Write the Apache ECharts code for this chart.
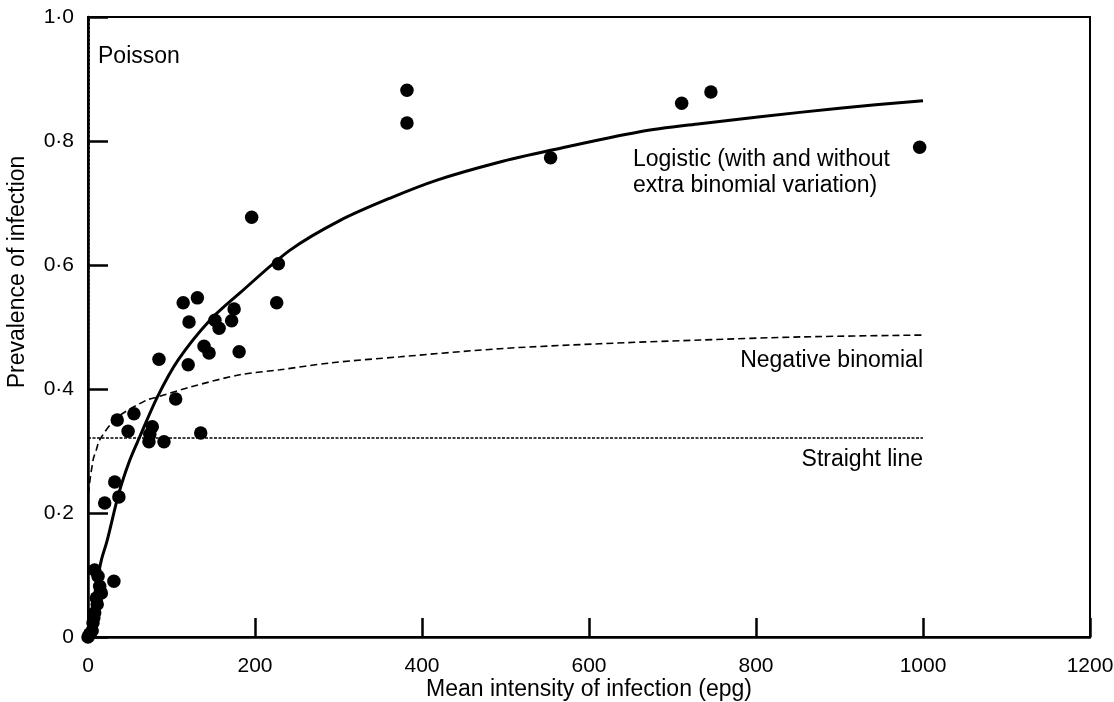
<!DOCTYPE html>
<html>
<head>
<meta charset="utf-8">
<script src="https://cdn.jsdelivr.net/npm/echarts@6/dist/echarts.min.js"></script>
<style>
html, body { margin: 0; background: #fff; }
#main { width: 1114px; height: 702px; }
</style>
</head>
<body>
<div id="main"></div>
<script>
// observed prevalence vs mean intensity (epg)
var observed = [
  [382, 0.882], [382, 0.829], [554, 0.773], [711, 0.861], [746, 0.879], [996, 0.790],
  [196, 0.677], [228, 0.602], [226, 0.539], [114, 0.539], [131, 0.547], [121, 0.508],
  [175, 0.529], [172, 0.510], [152, 0.511], [157, 0.498], [139, 0.469], [145, 0.458],
  [181, 0.460], [85, 0.448], [120, 0.439], [105, 0.384], [35, 0.350], [55, 0.360],
  [48, 0.332], [77, 0.339], [73, 0.315], [91, 0.315], [74, 0.327], [135, 0.329],
  [32, 0.250], [37, 0.226], [20, 0.216],
  [8, 0.108], [12, 0.098], [31, 0.090], [14, 0.082], [16, 0.071], [10, 0.063],
  [11, 0.053], [8, 0.039], [7, 0.031], [6, 0.023], [5, 0.010], [2, 0.005], [0, 0]
];

// fitted curves
var logistic = [
  [0, 0], [5, 0.044], [10, 0.084], [16, 0.124], [23, 0.156], [37, 0.232], [50, 0.285],
  [62, 0.323], [83, 0.387], [108, 0.447], [146, 0.511], [182, 0.555], [242, 0.624],
  [302, 0.672], [362, 0.708], [418, 0.737], [490, 0.765], [554, 0.785], [661, 0.815],
  [733, 0.828], [805, 0.839], [900, 0.853], [1000, 0.865]
];
var negBinomial = [
  [0, 0], [0.4, 0.221], [6, 0.285], [10, 0.302], [14, 0.318], [34, 0.353], [70, 0.382],
  [83, 0.387], [122, 0.403], [182, 0.423], [230, 0.431], [290, 0.442], [374, 0.452],
  [493, 0.465], [613, 0.473], [733, 0.479], [853, 0.484], [1000, 0.487]
];
var straightLine = [[0, 0.321], [1000, 0.321]];
var poisson = [[0, 0], [1, 0.6], [1.5, 1.0]];

var xTicks = [0, 200, 400, 600, 800, 1000, 1200];
var yTicks = [0, 0.2, 0.4, 0.6, 0.8, 1.0];

var font = '"Liberation Sans", Arial, Helvetica, sans-serif';
var textFont = '23px ' + font;

var myChart = echarts.init(document.getElementById('main'));

var option = {
  backgroundColor: '#fff',
  animation: false,
  textStyle: { fontFamily: font, color: '#000' },
  grid: {
    left: 88, right: 24, top: 17, bottom: 65,
    show: true, borderColor: '#000', borderWidth: 2,
    containLabel: false, outerBoundsMode: 'none'
  },
  xAxis: {
    type: 'value', min: xTicks[0], max: xTicks[xTicks.length - 1], interval: 200,
    name: 'Mean intensity of infection (epg)',
    nameLocation: 'middle', nameGap: 41, nameMoveOverlap: false,
    nameTextStyle: { fontSize: 23, color: '#000', fontFamily: font },
    axisLine: { lineStyle: { color: '#000', width: 2.5 } },
    axisTick: { inside: true, length: 19, lineStyle: { color: '#000', width: 2.5 } },
    axisLabel: {
      fontSize: 21, color: '#000', margin: 19, showMinLabel: true, showMaxLabel: true,
      formatter: function (v) { return String(v); }
    },
    splitLine: { show: false }
  },
  yAxis: {
    type: 'value', min: yTicks[0], max: yTicks[yTicks.length - 1], interval: 0.2,
    axisLine: { lineStyle: { color: '#000', width: 2.5 } },
    axisTick: { inside: true, length: 20, lineStyle: { color: '#000', width: 2.5 } },
    axisLabel: {
      fontSize: 21, color: '#000', margin: 14, showMinLabel: true, showMaxLabel: true,
      formatter: function (v) { return v === 0 ? '0' : v.toFixed(1).replace('.', '\u00b7'); }
    },
    splitLine: { show: false }
  },
  series: [
    {
      name: 'Poisson', type: 'line', data: poisson, symbol: 'none',
      lineStyle: { color: '#000', width: 1.5, type: [2, 2] }, z: 3
    },
    {
      name: 'Straight line', type: 'line', data: straightLine, symbol: 'none',
      lineStyle: { color: '#000', width: 1.3, type: [3, 1.5] }, z: 3
    },
    {
      name: 'Negative binomial', type: 'line', data: negBinomial, symbol: 'none',
      smooth: 0.3,
      lineStyle: { color: '#000', width: 1.6, type: [7, 4] }, z: 3
    },
    {
      name: 'Logistic', type: 'line', data: logistic, symbol: 'none',
      smooth: 0.3,
      lineStyle: { color: '#000', width: 3 }, z: 4
    },
    {
      name: 'Observed', type: 'scatter', data: observed, symbolSize: 13.5,
      itemStyle: { color: '#000', opacity: 1 }, z: 5
    }
  ],
  graphic: [
    {
      type: 'text', x: 18, y: 272, rotation: Math.PI / 2,
      style: { text: 'Prevalence of infection', font: textFont, fill: '#000', align: 'center', verticalAlign: 'middle' }
    },
    { type: 'text', x: 98, y: 45, style: { text: 'Poisson', font: textFont, fill: '#000' } },
    { type: 'text', x: 633, y: 147, style: { text: 'Logistic (with and without\nextra binomial variation)', font: textFont, fill: '#000', lineHeight: 26 } },
    { type: 'text', x: 923, y: 349, style: { text: 'Negative binomial', font: textFont, fill: '#000', align: 'right' } },
    { type: 'text', x: 923, y: 448, style: { text: 'Straight line', font: textFont, fill: '#000', align: 'right' } }
  ]
};

myChart.setOption(option);
</script>
</body>
</html>
